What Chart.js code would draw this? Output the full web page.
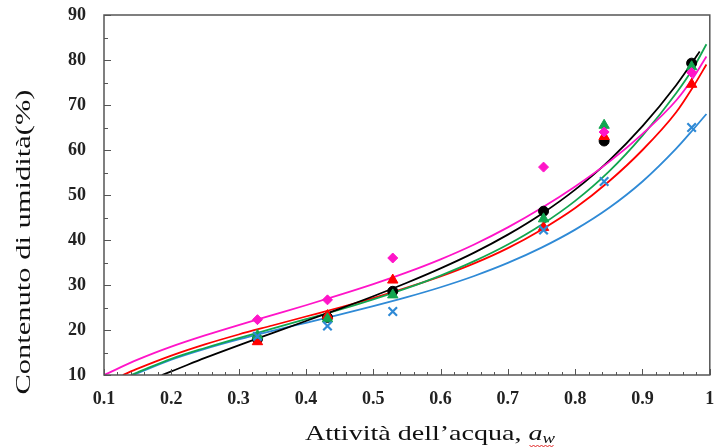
<!DOCTYPE html>
<html>
<head>
<meta charset="utf-8">
<script src="https://cdn.jsdelivr.net/npm/chart.js@4"></script>
<style>
html, body { margin: 0; padding: 0; background: #fff; }
</style>
</head>
<body>
<canvas id="myChart" width="718" height="447"></canvas>
<script>
// misure (punti sperimentali)
var awPoints = [0.328, 0.432, 0.529, 0.753, 0.843, 0.973];
var pinkVals  = [22.3, 26.7, 36.0, 56.2, 64.0, 77.2];
var redVals   = [17.4, 23.2, 31.1, 42.8, 63.0, 74.6];
var greenVals = [18.8, 22.5, 27.8, 44.7, 65.5, 78.5];
var blackVals = [18.0, 22.8, 28.6, 46.4, 62.0, 79.3];
var blueVals  = [18.6, 20.9, 24.1, 42.2, 53.0, 65.0];

// curve del modello
var pinkCurveAw  = [0.1, 0.15, 0.2, 0.25, 0.3, 0.35, 0.4, 0.45, 0.5, 0.55, 0.6, 0.65, 0.7, 0.75, 0.8, 0.85, 0.9, 0.95, 0.975, 0.995];
var pinkCurve    = [10, 13.4, 16.3, 18.8, 21.1, 23.3, 25.5, 27.8, 30.2, 32.8, 35.7, 39.0, 42.8, 47.1, 51.9, 57.3, 63.6, 71.0, 76.0, 80.8];
var blackCurveAw = [0.186, 0.2, 0.25, 0.3, 0.35, 0.4, 0.45, 0.5, 0.55, 0.6, 0.65, 0.7, 0.75, 0.8, 0.85, 0.9, 0.95, 0.975, 0.985];
var blackCurve   = [10, 10.8, 13.8, 16.6, 19.3, 22.0, 24.7, 27.5, 30.5, 33.7, 37.2, 41.2, 45.8, 51.2, 57.6, 65.3, 74.4, 79.7, 81.9];
var redCurveAw   = [0.128, 0.15, 0.2, 0.25, 0.3, 0.35, 0.4, 0.45, 0.5, 0.55, 0.6, 0.65, 0.7, 0.75, 0.8, 0.85, 0.9, 0.95, 0.975, 0.995];
var redCurve     = [10, 11.4, 14.3, 16.8, 19.0, 21.0, 23.0, 25.0, 27.1, 29.4, 31.9, 34.8, 38.2, 42.3, 47.1, 53.0, 60.0, 68.4, 74.0, 79.0];
var greenCurveAw = [0.14, 0.15, 0.2, 0.25, 0.3, 0.35, 0.4, 0.45, 0.5, 0.55, 0.6, 0.65, 0.7, 0.75, 0.8, 0.85, 0.9, 0.95, 0.975, 0.995];
var greenCurve   = [10, 10.6, 13.6, 16.0, 18.2, 20.3, 22.4, 24.5, 26.8, 29.3, 32.1, 35.3, 39.0, 43.4, 48.7, 55.2, 63.2, 72.6, 78.1, 83.5];
var blueCurveAw  = [0.143, 0.15, 0.2, 0.25, 0.3, 0.35, 0.4, 0.45, 0.5, 0.55, 0.6, 0.65, 0.7, 0.75, 0.8, 0.85, 0.9, 0.95, 0.975, 0.995];
var blueCurve    = [10, 10.4, 13.4, 15.8, 17.9, 19.8, 21.6, 23.4, 25.3, 27.3, 29.5, 32.0, 34.9, 38.3, 42.3, 47.1, 53.0, 60.3, 64.5, 68.0];

var xTicks = [0.1, 0.2, 0.3, 0.4, 0.5, 0.6, 0.7, 0.8, 0.9, 1];
var yTicks = [10, 20, 30, 40, 50, 60, 70, 80, 90];

var PINK = '#ff14c8', RED = '#ff0000', GREEN = '#12a650', BLACK = '#000000', BLUE = '#2f8ad6';

function pts(xs, ys) {
  return xs.map(function (x, i) { return { x: x, y: ys[i] }; });
}

function curve(xs, ys, color) {
  return {
    data: pts(xs, ys),
    showLine: true,
    borderColor: color,
    borderWidth: 1.8,
    pointRadius: 0,
    cubicInterpolationMode: 'monotone',
    order: 10
  };
}

function marks(ys, color, style, r, order) {
  return {
    data: pts(awPoints, ys),
    showLine: false,
    pointStyle: style,
    pointRadius: r,
    backgroundColor: color,
    borderColor: color,
    borderWidth: style === 'crossRot' ? 2.2 : 1,
    order: order
  };
}

// testo allungato in orizzontale fino alla larghezza voluta
function stretchedText(ctx, parts, cx, base, target) {
  var total = 0;
  parts.forEach(function (p) { ctx.font = p.font; p.w = ctx.measureText(p.text).width; total += p.w; });
  var k = target / total;
  ctx.save();
  ctx.translate(cx - target / 2, base);
  ctx.scale(k, 1);
  var x = 0;
  parts.forEach(function (p) {
    ctx.font = p.font;
    ctx.fillText(p.text, x, p.dy || 0);
    p.x = x * k;
    x += p.w;
  });
  ctx.restore();
  return parts;
}

// cornice, tacche interne e titoli degli assi
var framePlugin = {
  id: 'frame',
  afterDraw: function (chart) {
    var ctx = chart.ctx, a = chart.chartArea;
    var xs = chart.scales.x, ys = chart.scales.y;
    ctx.save();
    ctx.strokeStyle = '#555';
    ctx.lineWidth = 1.5;
    ctx.strokeRect(a.left, a.top, a.right - a.left, a.bottom - a.top);
    ctx.lineWidth = 1;
    ctx.beginPath();
    for (var i = 5; i <= 50; i++) {
      var px = Math.round(xs.getPixelForValue(i / 50)) + 0.5;
      var len = i % 5 === 0 ? 6 : 3;
      ctx.moveTo(px, a.bottom);
      ctx.lineTo(px, a.bottom - len);
    }
    for (var v = 10; v <= 90; v += 5) {
      var py = Math.round(ys.getPixelForValue(v)) + 0.5;
      var l = v % 10 === 0 ? 7 : 4;
      ctx.moveTo(a.left, py);
      ctx.lineTo(a.left + l, py);
    }
    ctx.stroke();

    ctx.fillStyle = '#111';
    ctx.textAlign = 'left';
    ctx.textBaseline = 'alphabetic';
    var parts = stretchedText(ctx, [
      { text: 'Attività dell\u2019acqua, ', font: '21px "Liberation Serif"' },
      { text: 'a', font: 'italic 21px "Liberation Serif"' },
      { text: 'w', font: 'italic 14px "Liberation Serif"', dy: 3 }
    ], 430, 440, 250);
    // sottolineatura ondulata rossa sotto a_w
    var sx = 305 + parts[1].x + 1, ex = 555;
    ctx.strokeStyle = '#e02020';
    ctx.lineWidth = 1;
    ctx.beginPath();
    for (var k = 0; sx + k * 2 <= ex; k++) {
      var yy = 445 + (k % 2 === 0 ? 0 : 2);
      if (k === 0) ctx.moveTo(sx, yy); else ctx.lineTo(sx + k * 2, yy);
    }
    ctx.stroke();

    ctx.save();
    ctx.translate(30, 0);
    ctx.rotate(-Math.PI / 2);
    stretchedText(ctx, [{ text: 'Contenuto di umidità(%)', font: '21px "Liberation Serif"' }], -242, 0, 305);
    ctx.restore();
    ctx.restore();
  }
};

var ctx = document.getElementById('myChart').getContext('2d');
var myChart = new Chart(ctx, {
  type: 'scatter',
  data: {
    datasets: [
      curve(pinkCurveAw, pinkCurve, PINK),
      curve(blackCurveAw, blackCurve, BLACK),
      curve(greenCurveAw, greenCurve, GREEN),
      curve(redCurveAw, redCurve, RED),
      curve(blueCurveAw, blueCurve, BLUE),
      marks(blackVals, BLACK, 'circle', 5, 6),
      marks(redVals, RED, 'triangle', 6, 5),
      marks(greenVals, GREEN, 'triangle', 6, 4),
      marks(pinkVals, PINK, 'rectRot', 5, 3),
      marks(blueVals, BLUE, 'crossRot', 6, 2)
    ]
  },
  options: {
    responsive: false,
    animation: false,
    layout: { padding: { top: 15, right: 4, left: 0, bottom: 0 } },
    plugins: { legend: { display: false }, tooltip: { enabled: false } },
    scales: {
      x: {
        type: 'linear',
        min: 0.1,
        max: 1,
        afterBuildTicks: function (s) { s.ticks = xTicks.map(function (v) { return { value: v }; }); },
        afterFit: function (s) { s.height = 72; s.paddingLeft = 0; s.paddingRight = 0; },
        grid: { display: false, drawTicks: false },
        border: { display: false },
        ticks: {
          padding: 14,
          color: '#222',
          font: { family: 'Liberation Serif', weight: 'bold', size: 18 },
          callback: function (v) { return v === 1 ? '1' : v.toFixed(1); }
        }
      },
      y: {
        min: 10,
        max: 90,
        afterBuildTicks: function (s) { s.ticks = yTicks.map(function (v) { return { value: v }; }); },
        afterFit: function (s) { s.width = 104; s.paddingTop = 0; s.paddingBottom = 0; },
        grid: { display: false, drawTicks: false },
        border: { display: false },
        ticks: {
          padding: 18,
          color: '#222',
          font: { family: 'Liberation Serif', weight: 'bold', size: 18 }
        }
      }
    }
  },
  plugins: [framePlugin]
});
</script>
</body>
</html>
